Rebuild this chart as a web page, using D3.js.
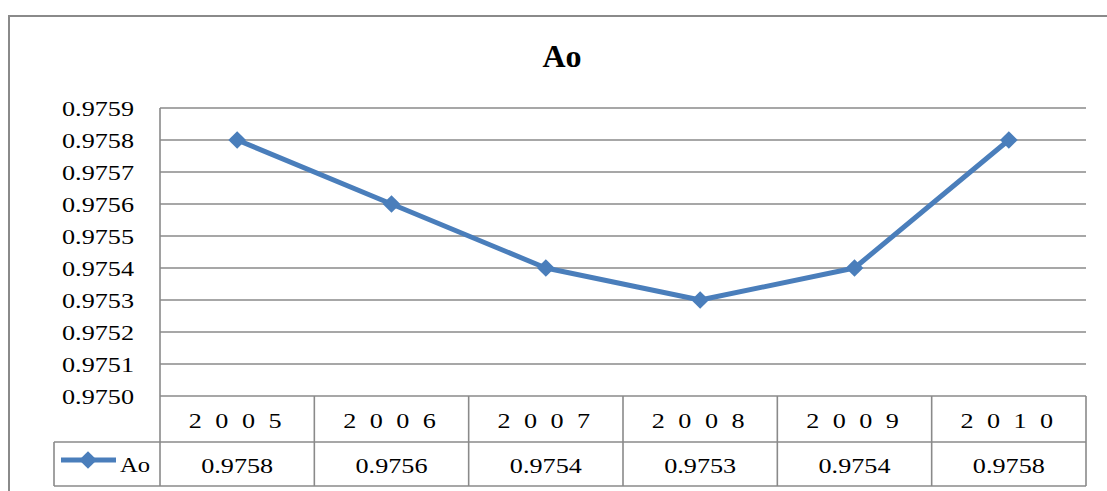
<!DOCTYPE html>
<html>
<head>
<meta charset="utf-8">
<script src="https://cdn.jsdelivr.net/npm/d3@7"></script>
<style>
html,body{margin:0;padding:0;background:#fff;}
svg{display:block;}
</style>
</head>
<body>
<svg id="chart" width="1107" height="491"></svg>
<script>
const title = "Ao";
const seriesName = "Ao";
const years = ["2005","2006","2007","2008","2009","2010"];
const values = [0.9758, 0.9756, 0.9754, 0.9753, 0.9754, 0.9758];
const valueLabels = ["0.9758","0.9756","0.9754","0.9753","0.9754","0.9758"];
const tickValues = [0.9750,0.9751,0.9752,0.9753,0.9754,0.9755,0.9756,0.9757,0.9758,0.9759];

(function(){
const svg = d3.select("#chart");
const FF = '"Liberation Serif"';
const gridColor = "#8a8a8a";
const lineColor = "#4a7ebb";
const sx = 1.19;

const pLeft = 160, pRight = 1086, pTop = 108, pBottom = 396;
const rowCat = 442, rowVal = 486, legendLeft = 54;

const x = d3.scaleBand().domain(years).range([pLeft, pRight]);
const y = d3.scaleLinear().domain([0.9750, 0.9759]).range([pBottom, pTop]);

// outer chart border (left + top visible)
svg.append("path")
  .attr("d", `M9,491 L9,16 L1107,16`)
  .attr("fill","none").attr("stroke","#8a8a8a").attr("stroke-width",2);

// title
svg.append("text").text(title)
  .attr("x", 562).attr("y", 67)
  .attr("text-anchor","middle")
  .style("font-family", FF).style("font-weight","bold").style("font-size","32px")
  .attr("fill","#000");

// gridlines
svg.append("g").selectAll("line").data(tickValues).join("line")
  .attr("x1", pLeft).attr("x2", pRight)
  .attr("y1", d => y(d)).attr("y2", d => y(d))
  .attr("stroke", gridColor).attr("stroke-width", 1.6);

// left axis line
svg.append("line").attr("x1", pLeft).attr("x2", pLeft).attr("y1", pTop).attr("y2", rowVal)
  .attr("stroke", gridColor).attr("stroke-width", 1.6);

// tick labels
svg.append("g").selectAll("text").data(tickValues).join("text")
  .text(d => d3.format(".4f")(d))
  .attr("transform", d => `translate(134,${y(d) + 7.5}) scale(${sx},1)`)
  .attr("text-anchor","end")
  .style("font-family", FF).style("font-size","22px").attr("fill","#000");

// data table lines
const tbl = svg.append("g").attr("stroke", gridColor).attr("stroke-width", 1.6);
tbl.append("line").attr("x1", pLeft).attr("x2", pRight).attr("y1", rowCat).attr("y2", rowCat);
tbl.append("line").attr("x1", legendLeft).attr("x2", pLeft).attr("y1", rowCat).attr("y2", rowCat);
tbl.append("line").attr("x1", legendLeft).attr("x2", pRight).attr("y1", rowVal).attr("y2", rowVal);
tbl.append("line").attr("x1", legendLeft).attr("x2", legendLeft).attr("y1", rowCat).attr("y2", rowVal);
tbl.selectAll("line.v").data(years).join("line").attr("class","v")
  .attr("x1", d => x(d) + x.bandwidth()).attr("x2", d => x(d) + x.bandwidth())
  .attr("y1", pBottom).attr("y2", rowVal);

// category labels
const ls = 11.3;
svg.append("g").selectAll("text").data(years).join("text")
  .text(d => d)
  .attr("transform", d => `translate(${x(d) + x.bandwidth()/2 - 2},428) scale(${sx},1)`)
  .attr("text-anchor","middle")
  .attr("dx", ls/2)
  .style("letter-spacing", ls + "px")
  .style("font-family", FF).style("font-size","22px").attr("fill","#000");

// value labels
svg.append("g").selectAll("text").data(valueLabels).join("text")
  .text(d => d)
  .attr("transform", (d,i) => `translate(${x(years[i]) + x.bandwidth()/2},472.5) scale(${sx},1)`)
  .attr("text-anchor","middle")
  .style("font-family", FF).style("font-size","22px").attr("fill","#000");

// series line
const line = d3.line().x((d,i) => x(years[i]) + x.bandwidth()/2).y(d => y(d));
svg.append("path").datum(values).attr("d", line)
  .attr("fill","none").attr("stroke", lineColor).attr("stroke-width", 5)
  .attr("stroke-linejoin","round");

const diamond = d3.symbol().type(d3.symbolDiamond2).size(200);
svg.append("g").selectAll("path").data(values).join("path")
  .attr("d", diamond)
  .attr("transform", (d,i) => `translate(${x(years[i]) + x.bandwidth()/2},${y(d)})`)
  .attr("fill", lineColor);

// legend
svg.append("line").attr("x1", 61).attr("x2", 116).attr("y1", 460).attr("y2", 460)
  .attr("stroke", lineColor).attr("stroke-width", 5);
svg.append("path").attr("d", diamond).attr("transform","translate(88,460)").attr("fill", lineColor);
svg.append("text").text(seriesName)
  .attr("transform", `translate(120,471.5) scale(1.12,1)`)
  .style("font-family", FF).style("font-size","22px").attr("fill","#000");
})();
</script>
</body>
</html>
